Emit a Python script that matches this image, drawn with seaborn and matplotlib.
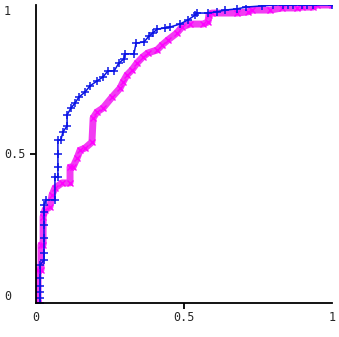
import matplotlib
matplotlib.use("Agg")
import matplotlib.pyplot as plt
import numpy as np
import pandas as pd
import seaborn as sns

# ROC-style curves
blue_fpr = [0.014, 0.014, 0.014, 0.014, 0.014, 0.014, 0.027, 0.027, 0.027, 0.027,
            0.027, 0.027, 0.034, 0.064, 0.064, 0.074, 0.074, 0.074, 0.074, 0.084,
            0.091, 0.105, 0.105, 0.118, 0.132, 0.145, 0.166, 0.182, 0.206, 0.226,
            0.243, 0.264, 0.280, 0.297, 0.301, 0.331, 0.338, 0.365, 0.382, 0.395,
            0.409, 0.436, 0.453, 0.486, 0.514, 0.537, 0.544, 0.581, 0.611, 0.639,
            0.679, 0.709, 0.764, 0.801, 0.834, 0.851, 0.868, 0.899, 0.916, 0.936, 1.0]
blue_tpr = [0.000, 0.017, 0.037, 0.057, 0.084, 0.128, 0.144, 0.168, 0.218, 0.262,
            0.305, 0.329, 0.346, 0.346, 0.423, 0.423, 0.456, 0.500, 0.547, 0.547,
            0.574, 0.594, 0.631, 0.654, 0.671, 0.691, 0.708, 0.728, 0.745, 0.758,
            0.779, 0.779, 0.805, 0.819, 0.836, 0.836, 0.872, 0.876, 0.896, 0.906,
            0.919, 0.923, 0.926, 0.936, 0.950, 0.966, 0.973, 0.973, 0.977, 0.983,
            0.987, 0.993, 0.997, 1.0, 1.0, 1.0, 1.0, 1.0, 1.0, 1.0, 1.0]

pink_fpr = [0.007, 0.007, 0.017, 0.017, 0.024, 0.024, 0.030, 0.047, 0.054, 0.064,
            0.088, 0.115, 0.115, 0.125, 0.139, 0.149, 0.166, 0.189, 0.193, 0.206,
            0.226, 0.257, 0.284, 0.294, 0.307, 0.324, 0.341, 0.361, 0.378, 0.409,
            0.426, 0.446, 0.476, 0.493, 0.520, 0.564, 0.581, 0.584, 0.595, 0.679,
            0.716, 0.730, 0.791, 0.831, 0.882, 0.899, 0.936, 0.949, 1.0]
pink_tpr = [0.000, 0.111, 0.111, 0.195, 0.195, 0.289, 0.312, 0.322, 0.362, 0.386,
            0.403, 0.403, 0.456, 0.456, 0.487, 0.513, 0.520, 0.540, 0.621, 0.641,
            0.654, 0.691, 0.721, 0.742, 0.765, 0.782, 0.805, 0.826, 0.839, 0.849,
            0.866, 0.883, 0.906, 0.926, 0.936, 0.936, 0.943, 0.966, 0.973, 0.973,
            0.977, 0.983, 0.983, 0.990, 0.990, 0.993, 0.993, 1.0, 1.0]

tick_vals = [0, 0.5, 1]
tick_labels = ["0", "0.5", "1"]

sns.set_style("white")
plt.rcParams['font.family'] = ['DejaVu Sans Mono']

fig = plt.figure(figsize=(3.39, 3.37), dpi=100)
ax = fig.add_axes([36 / 339, 34 / 337, 296 / 339, 298 / 337])

pink = pd.DataFrame({"fpr": pink_fpr, "tpr": pink_tpr})
blue = pd.DataFrame({"fpr": blue_fpr, "tpr": blue_tpr})

sns.lineplot(data=pink, x="fpr", y="tpr", estimator=None, sort=False,
             color="#f23cf2", lw=5, ax=ax)
sns.lineplot(data=pink, x="fpr", y="tpr", estimator=None, sort=False,
             color="#ff00ff", lw=0, marker="x", markersize=4, markeredgewidth=1,
             markeredgecolor="#ff00ff", ax=ax)
sns.lineplot(data=blue, x="fpr", y="tpr", estimator=None, sort=False,
             color="#0a14e6", lw=1.1, marker="+", markersize=6, markeredgewidth=1.1,
             markeredgecolor="#0a14e6", ax=ax)

ax.set_xlim(0, 1)
ax.set_ylim(0, 1)
ax.set_xlabel("")
ax.set_ylabel("")
ax.set_xticks(tick_vals)
ax.set_xticklabels(tick_labels)
ax.set_yticks(tick_vals)
ax.set_yticklabels(tick_labels, ha="left")
for lab, va in zip(ax.get_yticklabels(), ["bottom", "center", "top"]):
    lab.set_va(va)
for s in ["top", "right"]:
    ax.spines[s].set_visible(False)
for s in ["left", "bottom"]:
    ax.spines[s].set_color("black")
    ax.spines[s].set_linewidth(1.3)
ax.tick_params(axis="both", length=4, width=1.3, color="black", labelsize=8.5, direction="out",
               bottom=True, left=True)
ax.tick_params(axis="y", pad=19)
ax.tick_params(axis="x", pad=2)
for t in [0, 2]:
    ax.xaxis.get_major_ticks()[t].tick1line.set_visible(False)
    ax.yaxis.get_major_ticks()[t].tick1line.set_visible(False)

fig.savefig("out.png", dpi=100)
